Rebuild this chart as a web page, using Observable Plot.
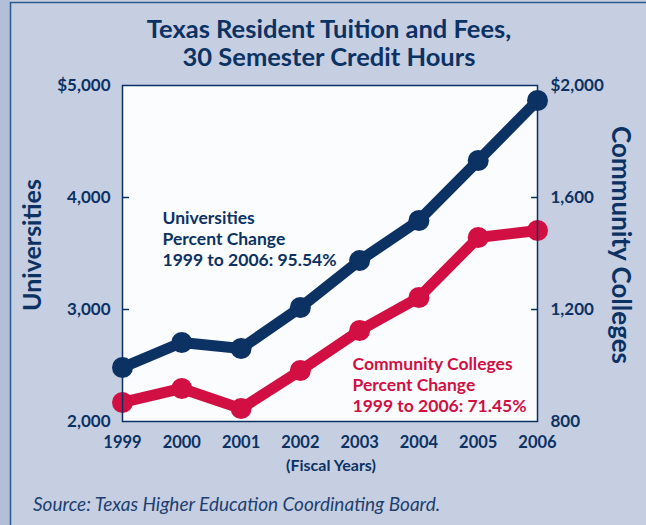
<!DOCTYPE html>
<html><head><meta charset="utf-8">
<script src="https://cdn.jsdelivr.net/npm/d3@7"></script>
<script src="https://cdn.jsdelivr.net/npm/@observablehq/plot@0.6"></script>
<style>
html,body{margin:0;padding:0;background:#c6cee1;}
#chart{position:relative;width:646px;height:525px;overflow:hidden;}
#chart svg{display:block;}
</style></head><body><div id="chart"></div>
<script>
const years = [1999, 2000, 2001, 2002, 2003, 2004, 2005, 2006];
const universities = [2482, 2705, 2652, 3018, 3437, 3795, 4330, 4866];
const communityColleges = [868, 918, 846, 982, 1125, 1243, 1457, 1482];
const leftTicks = [2000, 3000, 4000, 5000];
const rightTicks = [800, 1200, 1600, 2000];
const titleLines = ["Texas Resident Tuition and Fees,", "30 Semester Credit Hours"];
const uniNote = ["Universities", "Percent Change", "1999 to 2006: 95.54%"];
const ccNote = ["Community Colleges", "Percent Change", "1999 to 2006: 71.45%"];
const leftLabel = "Universities";
const rightLabel = "Community Colleges";
const xLabel = "(Fiscal Years)";
const source = "Source: Texas Higher Education Coordinating Board.";

const navy = "#0b3263";
const red = "#d20f43";
const font = "Lato, 'Open Sans', sans-serif";

// map community-college dollars onto the universities scale (800..2000 -> 2000..5000)
const ccToLeft = v => 2000 + (v - rightTicks[0]) * (3000 / (rightTicks[3] - rightTicks[0]));
const leftToCC = v => rightTicks[0] + (v - 2000) * ((rightTicks[3] - rightTicks[0]) / 3000);
const fmt = d3.format(",");

const uniData = years.map((year, i) => ({year, value: universities[i]}));
const ccData = years.map((year, i) => ({year, value: ccToLeft(communityColleges[i])}));

const W = 646, H = 525;
const mL = 122, mR = 109, mT = 85, mB = 104;

const plot = Plot.plot({
  width: W, height: H,
  marginLeft: mL, marginRight: mR, marginTop: mT, marginBottom: mB,
  style: {background: "transparent", fontFamily: font, color: navy, overflow: "visible"},
  x: {domain: [years[0], years[years.length - 1]]},
  y: {domain: [leftTicks[0], leftTicks[leftTicks.length - 1]]},
  marks: [
    Plot.frame({fill: "#fbfcfe"}),
    Plot.axisY({anchor: "left", ticks: [3000, 4000], tickSize: 7, dx: 7, tickFormat: () => "", stroke: navy, strokeWidth: 1.5, label: null}),
    Plot.axisY({anchor: "right", ticks: [3000, 4000], tickSize: 7, dx: -7, tickFormat: () => "", stroke: navy, strokeWidth: 1.5, label: null}),
    Plot.axisY({anchor: "left", ticks: leftTicks, tickSize: 0, tickPadding: 12,
      tickFormat: d => (d === 5000 ? "$" : "") + fmt(d), fontSize: 17, fontWeight: 700, fill: navy, label: null}),
    Plot.axisY({anchor: "right", ticks: leftTicks, tickSize: 0, tickPadding: 13,
      tickFormat: d => (d === 5000 ? "$" : "") + fmt(Math.round(leftToCC(d))), fontSize: 17, fontWeight: 700, fill: navy, label: null}),
    Plot.axisX({ticks: years, tickSize: 0, tickPadding: 15, tickFormat: d => String(d), fontSize: 16.5, fontWeight: 700, fill: navy, label: null}),
    Plot.line(ccData, {x: "year", y: "value", stroke: red, strokeWidth: 11, strokeLinejoin: "round"}),
    Plot.dot(ccData, {x: "year", y: "value", r: 10.5, fill: red}),
    Plot.line(uniData, {x: "year", y: "value", stroke: navy, strokeWidth: 11, strokeLinejoin: "round"}),
    Plot.dot(uniData, {x: "year", y: "value", r: 10.5, fill: navy}),
    Plot.frame({stroke: navy, strokeWidth: 1.5}),
    Plot.text([uniNote.join("\n")], {frameAnchor: "top-left", dx: 40, dy: 123, textAnchor: "start", lineAnchor: "top",
      lineHeight: 1.22, fontSize: 17.5, fontWeight: 700, fill: navy}),
    Plot.text([ccNote.join("\n")], {frameAnchor: "top-left", dx: 230, dy: 269, textAnchor: "start", lineAnchor: "top",
      lineHeight: 1.22, fontSize: 17.5, fontWeight: 700, fill: red})
  ]
});

const svg = d3.select(plot);
svg.insert("rect", ":first-child").attr("x", 0).attr("y", 0).attr("width", W).attr("height", H).attr("fill", "#c6cee1");
svg.insert("rect", ":first-child + *").attr("x", 0).attr("y", 0).attr("width", 10).attr("height", H).attr("fill", "#b3bfd9");
const deco = svg.append("g");
deco.append("line").attr("x1", 10.5).attr("x2", 10.5).attr("y1", 2).attr("y2", H).attr("stroke", "#2d5a8c").attr("stroke-width", 1.5);
deco.append("line").attr("x1", 10).attr("x2", W).attr("y1", 2.5).attr("y2", 2.5).attr("stroke", "#2d5a8c").attr("stroke-width", 1.5);

const g = svg.append("g").attr("font-family", font).attr("fill", navy);
titleLines.forEach((t, i) => {
  g.append("text").attr("x", 329).attr("y", 38 + i * 28).attr("text-anchor", "middle")
    .attr("font-size", 25.5).attr("font-weight", 700).text(t);
});
g.append("text").attr("transform", "translate(41,245) rotate(-90)").attr("text-anchor", "middle")
  .attr("font-size", 25).attr("font-weight", 700).text(leftLabel);
g.append("text").attr("transform", "translate(612,245) rotate(90)").attr("text-anchor", "middle")
  .attr("font-size", 26).attr("font-weight", 700).text(rightLabel);
g.append("text").attr("x", 331).attr("y", 471).attr("text-anchor", "middle")
  .attr("font-size", 16).attr("font-weight", 700).text(xLabel);
g.append("text").attr("x", 33).attr("y", 511).attr("text-anchor", "start")
  .attr("font-size", 19).attr("font-style", "italic").attr("fill", "#1d3f70").text(source);

document.getElementById("chart").appendChild(plot);
</script>
</body></html>
